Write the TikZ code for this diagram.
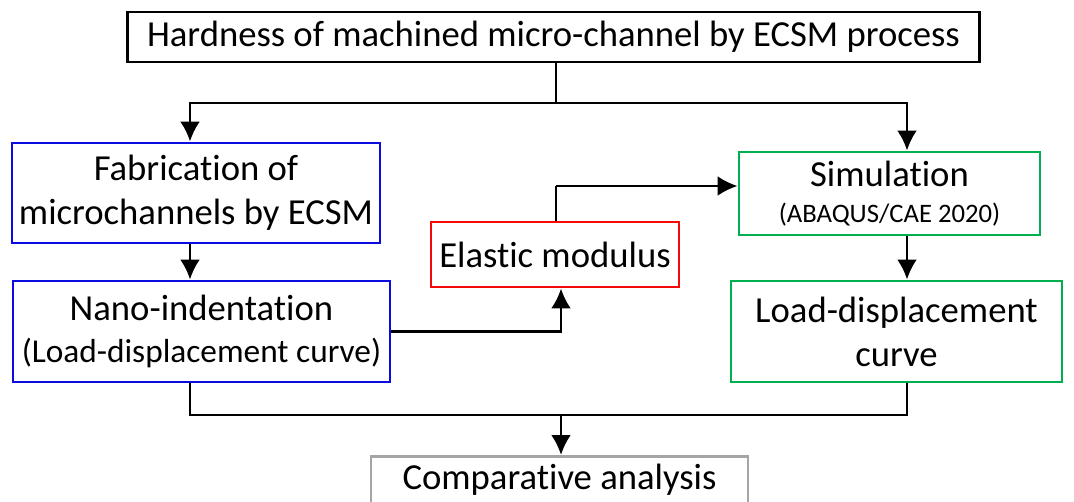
\documentclass[tikz,border=0pt]{standalone}
\usepackage{fontspec}
\setmainfont{Carlito}[Ligatures=NoCommon]
\usetikzlibrary{arrows.meta}
\tikzset{>={Latex[length=15pt,width=15pt]}}
\definecolor{boxblue}{RGB}{10,10,225}
\definecolor{boxred}{RGB}{245,10,10}
\definecolor{boxgreen}{RGB}{0,176,80}
\definecolor{boxgrey}{RGB}{165,165,165}
\tikzset{
  box/.style={draw, line width=2.2pt, align=center, inner sep=2pt,
    font=\fontsize{27.5}{33}\selectfont},
  link/.style={line width=2.2pt}
}

\begin{document}
\begin{tikzpicture}[x=0.75pt,y=-0.75pt]
\useasboundingbox (0,0) rectangle (1074,502);

\node[box, minimum width=639pt, minimum height=37.5pt] (top) at (553.5,37) {Hardness of machined micro-channel by ECSM process};

\node[box, draw=boxblue, minimum width=276pt, minimum height=75pt] (fab) at (196,193) {Fabrication of\\microchannels by ECSM};
\node[box, draw=boxblue, minimum width=282.75pt, minimum height=75.75pt, font=\fontsize{27.5}{32}\selectfont] (nano) at (201.5,331.5) {Nano-indentation\\{\fontsize{25}{30}\selectfont (Load-displacement curve)}};

\node[box, draw=boxred, minimum width=186pt, minimum height=48.75pt] (elastic) at (555,254.5) {Elastic modulus};

\node[box, draw=boxgreen, minimum width=225.75pt, minimum height=62.25pt, font=\fontsize{27.5}{27}\selectfont] (sim) at (889.5,193.5) {Simulation\\{\fontsize{20}{24}\selectfont (ABAQUS/CAE 2020)}};
\node[box, draw=boxgreen, minimum width=248.25pt, minimum height=75.75pt] (load) at (896.5,331.5) {Load-displacement\\curve};

% box runs past the lower edge
\node[box, draw=boxgrey, minimum width=282.75pt, text height=23pt, text depth=20pt, anchor=north] (comp) at (559.5,455) {Comparative analysis};

% columns of the connectors
\coordinate (lc) at (190,0);
\coordinate (mc) at (556,0);
\coordinate (ec) at (561,0);
\coordinate (rc) at (907,0);
\coordinate (split) at (556,103);
\coordinate (join) at (561,415);
\coordinate (turn) at (556,186);

\draw[link] (top.south -| mc) -- (split);
\draw[link,->] (split) -| (fab.north -| lc);
\draw[link,->] (split) -| (sim.north -| rc);

\draw[link,->] (fab.south -| lc) -- (nano.north -| lc);
\draw[link,->] (sim.south -| rc) -- (load.north -| rc);

\draw[link,->] (nano.east) -| (elastic.south -| ec);
\draw[link] (elastic.north -| mc) -- (turn);
\draw[link,->] (turn) -- (turn -| sim.west);

\draw[link] (nano.south -| lc) |- (join);
\draw[link] (load.south -| rc) |- (join);
\draw[link,->] (join) -- (comp.north -| join);

\end{tikzpicture}
\end{document}
